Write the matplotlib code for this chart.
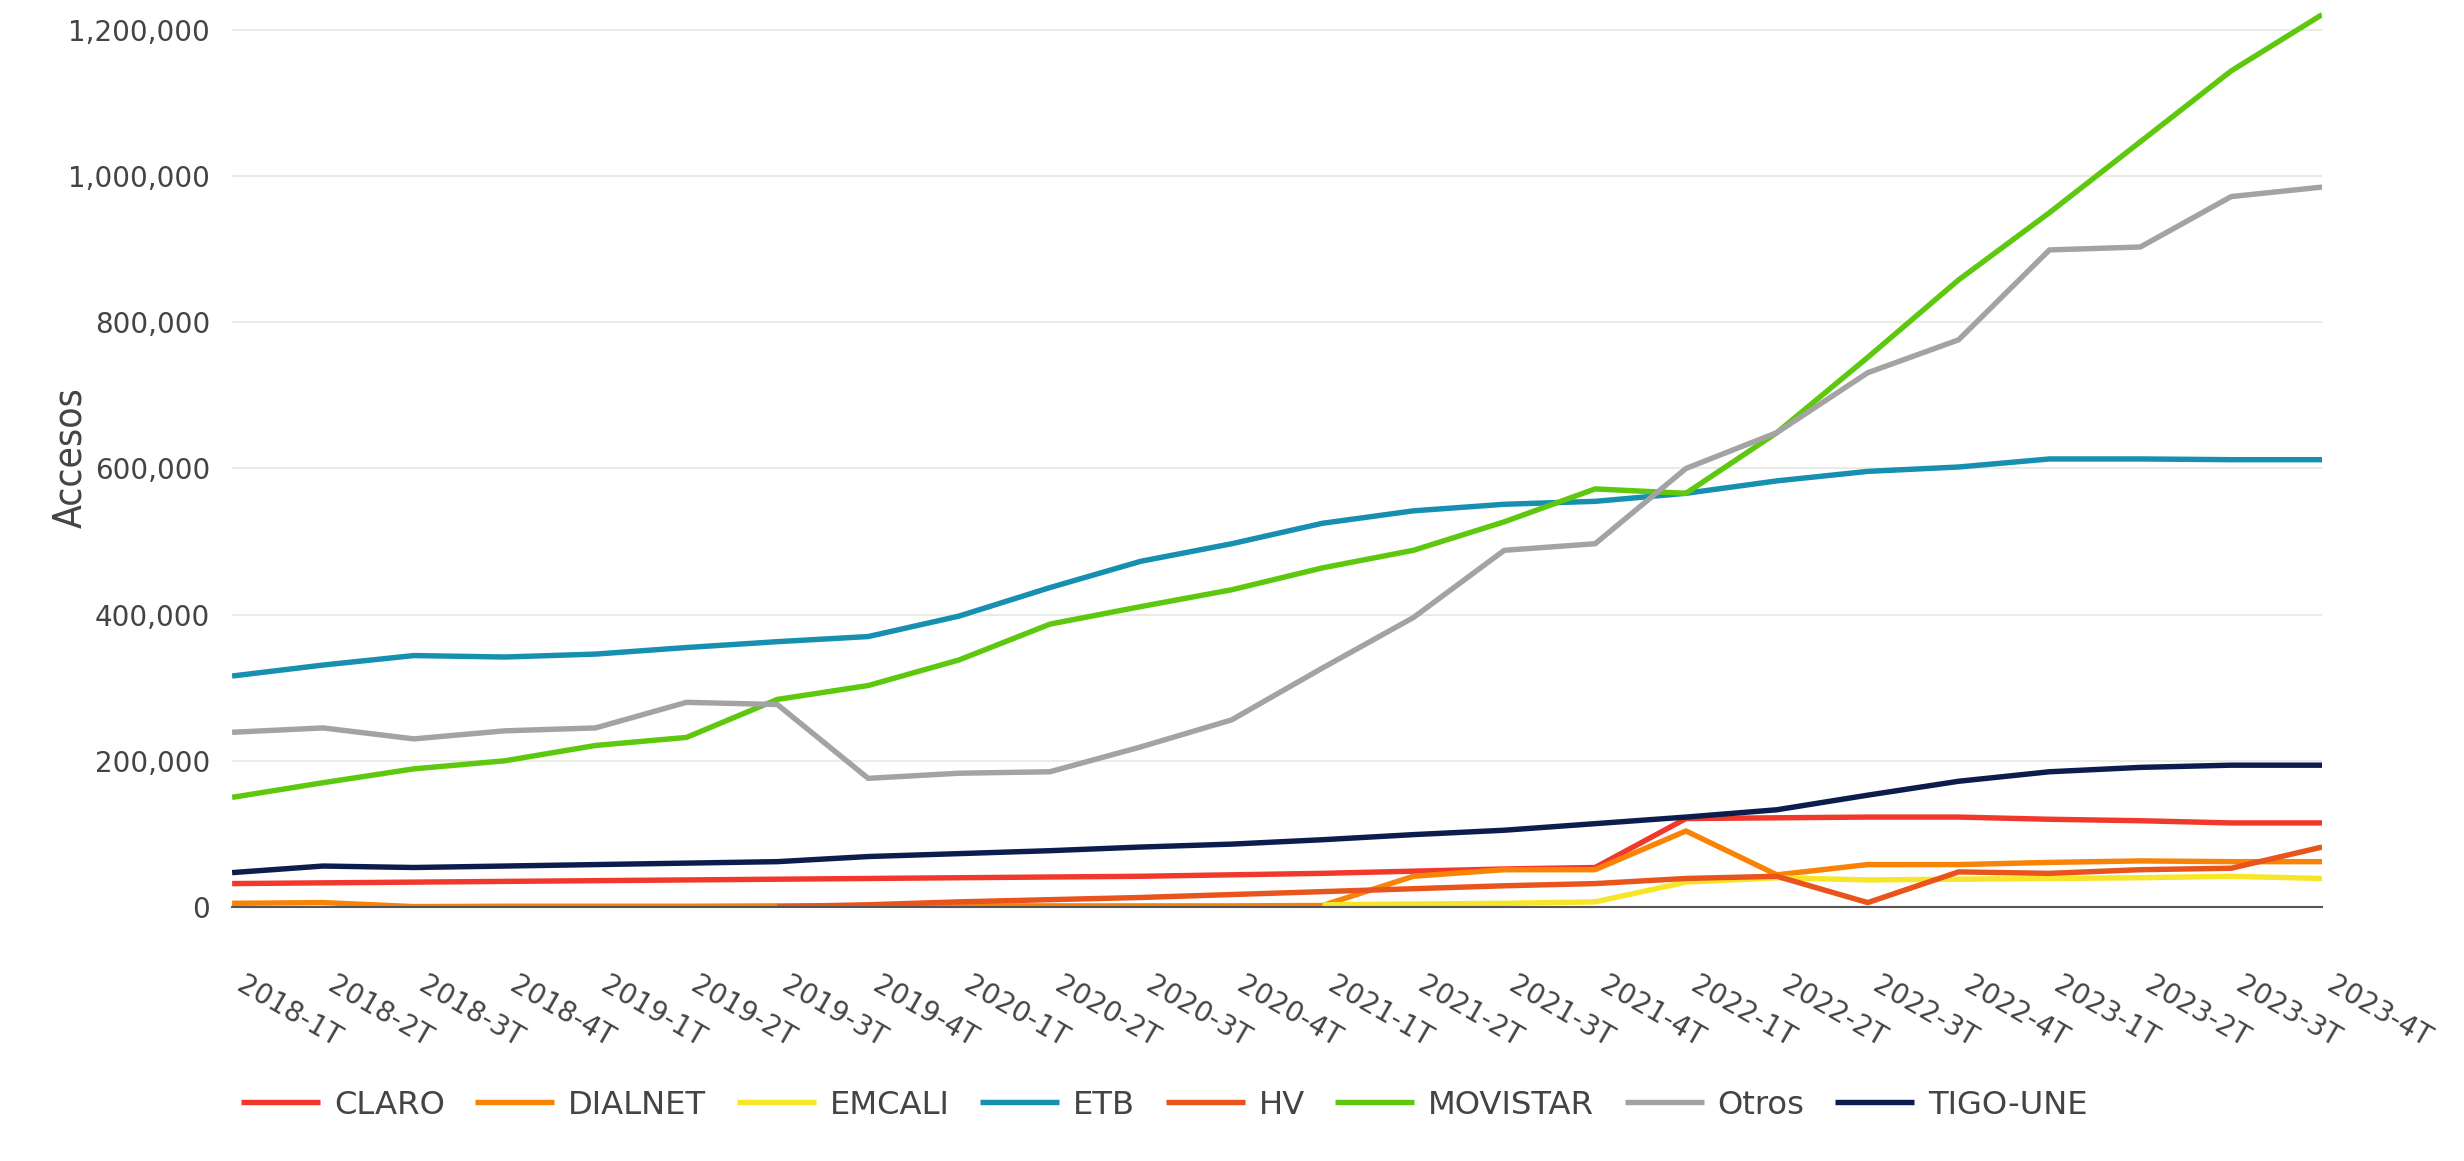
import numpy as np
import matplotlib.pyplot as plt

# Trimestres
trimestres = ['2018-1T', '2018-2T', '2018-3T', '2018-4T', '2019-1T', '2019-2T',
              '2019-3T', '2019-4T', '2020-1T', '2020-2T', '2020-3T', '2020-4T',
              '2021-1T', '2021-2T', '2021-3T', '2021-4T', '2022-1T', '2022-2T',
              '2022-3T', '2022-4T', '2023-1T', '2023-2T', '2023-3T', '2023-4T']

nan = np.nan

# Accesos por proveedor (estimados del grafico)
claro = [32000, 33000, 34000, 35000, 36000, 37000, 38000, 39000, 40000, 41000, 42000, 44000,
         46000, 49000, 52000, 54000, 121000, 122000, 123000, 123000, 120000, 118000, 115000, 115000]
dialnet = [5000, 6000, 500, 1000, 1000, 1000, 1500, 1500, 1500, 1500, 1500, 1500,
           2000, 42000, 51000, 51000, 104000, 44000, 58000, 58000, 61000, 63000, 62000, 62000]
emcali = [nan, nan, nan, nan, nan, nan, nan, nan, nan, nan, nan, nan,
          3000, 4000, 5000, 7000, 34000, 40000, 37000, 38000, 39000, 40000, 42000, 39000]
etb = [316000, 331000, 344000, 342000, 346000, 355000, 363000, 370000, 398000, 437000, 473000, 497000,
       525000, 542000, 551000, 555000, 566000, 583000, 596000, 602000, 613000, 613000, 612000, 612000]
hv = [nan, nan, nan, nan, nan, nan, 500, 3000, 7000, 10000, 13000, 17000,
      21000, 25000, 29000, 32000, 39000, 42000, 6000, 48000, 46000, 51000, 53000, 82000]
movistar = [150000, 170000, 189000, 200000, 221000, 232000, 284000, 303000, 338000, 387000, 411000, 434000,
            464000, 488000, 527000, 572000, 566000, 649000, 752000, 858000, 950000, 1047000, 1144000, 1221000]
otros = [239000, 245000, 230000, 241000, 245000, 280000, 277000, 176000, 183000, 185000, 219000, 256000,
         327000, 396000, 488000, 497000, 600000, 649000, 731000, 776000, 899000, 903000, 972000, 985000]
tigo_une = [47000, 56000, 54000, 56000, 58000, 60000, 62000, 69000, 73000, 77000, 82000, 86000,
            92000, 99000, 105000, 114000, 123000, 133000, 153000, 172000, 185000, 191000, 194000, 194000]

series = [('CLARO', claro, '#f0392b'),
          ('DIALNET', dialnet, '#f98307'),
          ('EMCALI', emcali, '#f7e52a'),
          ('ETB', etb, '#178fb0'),
          ('HV', hv, '#e9531c'),
          ('MOVISTAR', movistar, '#5ec80e'),
          ('Otros', otros, '#a3a3a3'),
          ('TIGO-UNE', tigo_une, '#0c1c4d')]

fig = plt.figure(figsize=(24.64, 11.61), dpi=100)
ax = fig.add_axes([0.0942, 0.2188, 0.9424 - 0.0942, 0.9931 - 0.2188])

x = np.arange(len(trimestres))
for nombre, valores, color in series:
    ax.plot(x, valores, color=color, linewidth=3.9, label=nombre, solid_capstyle='butt')

ax.set_xlim(0, len(trimestres) - 1)
ax.set_ylim(0, 1230000)
ax.set_yticks(np.arange(0, 1200001, 200000))
ax.yaxis.set_major_formatter(plt.FuncFormatter(lambda v, p: f'{int(v):,}'))
ax.grid(axis='y', color='#ebebe6', linewidth=1.5)
ax.set_axisbelow(True)

for s in ['top', 'right', 'left']:
    ax.spines[s].set_visible(False)
ax.spines['bottom'].set_color('#555555')
ax.spines['bottom'].set_linewidth(1.5)

ax.set_xticks(x)
ax.set_xticklabels(trimestres, rotation=-30, ha='left', va='top',
                   fontsize=20, color='#444444')
ax.tick_params(axis='x', length=0, pad=46)
ax.tick_params(axis='y', length=0, pad=16, labelsize=20, labelcolor='#444444')

ax.set_ylabel('Accesos', fontsize=28, color='#444444',
              family=['DejaVu Sans'], fontstretch='condensed')
ax.yaxis.set_label_coords(-0.0685, 0.5)

fig.legend(loc='center', bbox_to_anchor=(0.4726, 0.048), ncol=8, frameon=False,
           fontsize=23.2, handlelength=2.45, handletextpad=0.43, columnspacing=0.95,
           labelcolor='#444444')

plt.savefig('out.png', dpi=100)
